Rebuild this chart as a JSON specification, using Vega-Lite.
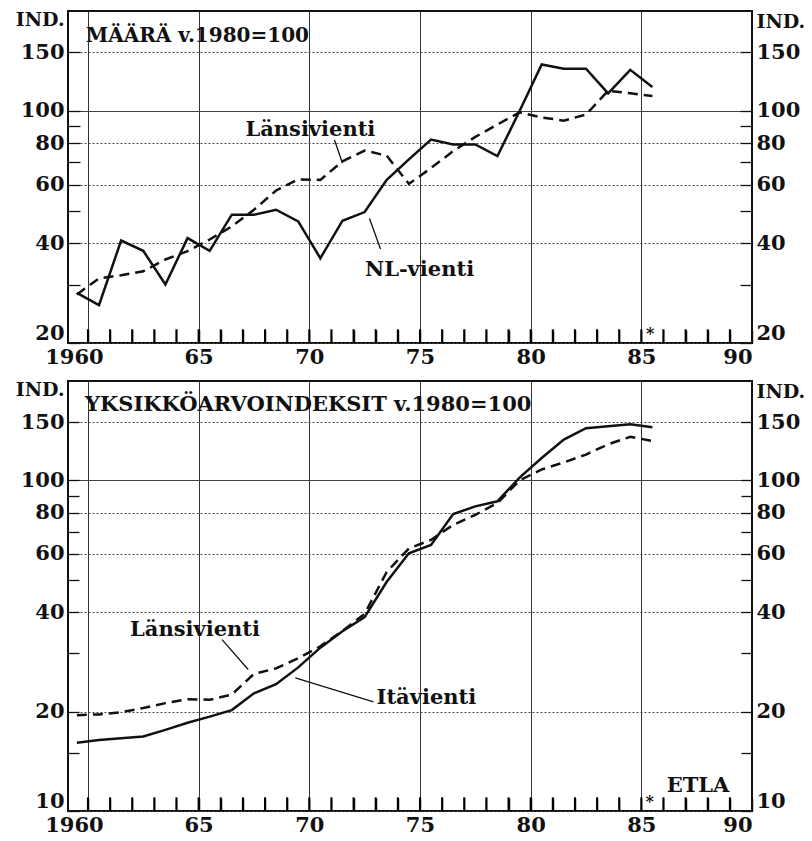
{
  "$schema": "https://vega.github.io/schema/vega-lite/v6.json",
  "padding": {"left": 14, "top": 9, "right": 4, "bottom": 4},
  "background": "white",
  "bounds": "flush",
  "spacing": 38,
  "config": {
    "view": {"stroke": "#111", "strokeWidth": 2},
    "axis": {
      "labelFont": "DejaVu Serif", "labelFontWeight": "bold", "labelFontSize": 21, "labelColor": "#111",
      "titleFont": "DejaVu Serif", "titleFontWeight": "bold", "titleFontSize": 19, "titleColor": "#111",
      "domain": false, "tickColor": "#111"
    },
    "text": {"font": "DejaVu Serif", "fontWeight": "bold", "fontSize": 21, "color": "#111"}
  },
  "datasets": {
    "years": [
      {"year": 1960}, {"year": 1961}, {"year": 1962}, {"year": 1963}, {"year": 1964}, {"year": 1965},
      {"year": 1966}, {"year": 1967}, {"year": 1968}, {"year": 1969}, {"year": 1970}, {"year": 1971},
      {"year": 1972}, {"year": 1973}, {"year": 1974}, {"year": 1975}, {"year": 1976}, {"year": 1977},
      {"year": 1978}, {"year": 1979}, {"year": 1980}, {"year": 1981}, {"year": 1982}, {"year": 1983},
      {"year": 1984}, {"year": 1985}, {"year": 1986}, {"year": 1987}, {"year": 1988}, {"year": 1989}
    ],
    "vol": [
      {"year": 1960, "series": "NL-vienti", "value": 28.3},
      {"year": 1961, "series": "NL-vienti", "value": 26.0},
      {"year": 1962, "series": "NL-vienti", "value": 40.7},
      {"year": 1963, "series": "NL-vienti", "value": 37.9},
      {"year": 1964, "series": "NL-vienti", "value": 30.0},
      {"year": 1965, "series": "NL-vienti", "value": 41.4},
      {"year": 1966, "series": "NL-vienti", "value": 37.9},
      {"year": 1967, "series": "NL-vienti", "value": 48.7},
      {"year": 1968, "series": "NL-vienti", "value": 48.7},
      {"year": 1969, "series": "NL-vienti", "value": 50.4},
      {"year": 1970, "series": "NL-vienti", "value": 46.5},
      {"year": 1971, "series": "NL-vienti", "value": 36.0},
      {"year": 1972, "series": "NL-vienti", "value": 46.7},
      {"year": 1973, "series": "NL-vienti", "value": 49.6},
      {"year": 1974, "series": "NL-vienti", "value": 62.0},
      {"year": 1975, "series": "NL-vienti", "value": 71.5},
      {"year": 1976, "series": "NL-vienti", "value": 82.0},
      {"year": 1977, "series": "NL-vienti", "value": 79.3},
      {"year": 1978, "series": "NL-vienti", "value": 79.3},
      {"year": 1979, "series": "NL-vienti", "value": 73.1},
      {"year": 1980, "series": "NL-vienti", "value": 100},
      {"year": 1981, "series": "NL-vienti", "value": 138},
      {"year": 1982, "series": "NL-vienti", "value": 134},
      {"year": 1983, "series": "NL-vienti", "value": 134},
      {"year": 1984, "series": "NL-vienti", "value": 113},
      {"year": 1985, "series": "NL-vienti", "value": 133},
      {"year": 1986, "series": "NL-vienti", "value": 118},
      {"year": 1960, "series": "Länsivienti", "value": 28.0},
      {"year": 1961, "series": "Länsivienti", "value": 31.3},
      {"year": 1962, "series": "Länsivienti", "value": 32.0},
      {"year": 1963, "series": "Länsivienti", "value": 32.9},
      {"year": 1964, "series": "Länsivienti", "value": 35.7},
      {"year": 1965, "series": "Länsivienti", "value": 37.8},
      {"year": 1966, "series": "Länsivienti", "value": 41.0},
      {"year": 1967, "series": "Länsivienti", "value": 44.9},
      {"year": 1968, "series": "Länsivienti", "value": 50.4},
      {"year": 1969, "series": "Länsivienti", "value": 57.6},
      {"year": 1970, "series": "Länsivienti", "value": 62.2},
      {"year": 1971, "series": "Länsivienti", "value": 62.0},
      {"year": 1972, "series": "Länsivienti", "value": 70.5},
      {"year": 1973, "series": "Länsivienti", "value": 76.0},
      {"year": 1974, "series": "Länsivienti", "value": 73.3},
      {"year": 1975, "series": "Länsivienti", "value": 60.3},
      {"year": 1976, "series": "Länsivienti", "value": 67.3},
      {"year": 1977, "series": "Länsivienti", "value": 75.7},
      {"year": 1978, "series": "Länsivienti", "value": 83.5},
      {"year": 1979, "series": "Länsivienti", "value": 91.0},
      {"year": 1980, "series": "Länsivienti", "value": 99.0},
      {"year": 1981, "series": "Länsivienti", "value": 95.6},
      {"year": 1982, "series": "Länsivienti", "value": 93.5},
      {"year": 1983, "series": "Länsivienti", "value": 97.5},
      {"year": 1984, "series": "Länsivienti", "value": 115},
      {"year": 1985, "series": "Länsivienti", "value": 113},
      {"year": 1986, "series": "Länsivienti", "value": 111}
    ],
    "unit": [
      {"year": 1960, "series": "Itävienti", "value": 16.1},
      {"year": 1961, "series": "Itävienti", "value": 16.4},
      {"year": 1962, "series": "Itävienti", "value": 16.6},
      {"year": 1963, "series": "Itävienti", "value": 16.8},
      {"year": 1964, "series": "Itävienti", "value": 17.6},
      {"year": 1965, "series": "Itävienti", "value": 18.5},
      {"year": 1966, "series": "Itävienti", "value": 19.3},
      {"year": 1967, "series": "Itävienti", "value": 20.2},
      {"year": 1968, "series": "Itävienti", "value": 22.7},
      {"year": 1969, "series": "Itävienti", "value": 24.2},
      {"year": 1970, "series": "Itävienti", "value": 27.2},
      {"year": 1971, "series": "Itävienti", "value": 31.2},
      {"year": 1972, "series": "Itävienti", "value": 35.0},
      {"year": 1973, "series": "Itävienti", "value": 38.6},
      {"year": 1974, "series": "Itävienti", "value": 49.4},
      {"year": 1975, "series": "Itävienti", "value": 60.2},
      {"year": 1976, "series": "Itävienti", "value": 63.8},
      {"year": 1977, "series": "Itävienti", "value": 79.1},
      {"year": 1978, "series": "Itävienti", "value": 83.5},
      {"year": 1979, "series": "Itävienti", "value": 86.5},
      {"year": 1980, "series": "Itävienti", "value": 102},
      {"year": 1981, "series": "Itävienti", "value": 117},
      {"year": 1982, "series": "Itävienti", "value": 133},
      {"year": 1983, "series": "Itävienti", "value": 144},
      {"year": 1984, "series": "Itävienti", "value": 146},
      {"year": 1985, "series": "Itävienti", "value": 148},
      {"year": 1986, "series": "Itävienti", "value": 145},
      {"year": 1960, "series": "Länsivienti", "value": 19.5},
      {"year": 1961, "series": "Länsivienti", "value": 19.6},
      {"year": 1962, "series": "Länsivienti", "value": 19.9},
      {"year": 1963, "series": "Länsivienti", "value": 20.5},
      {"year": 1964, "series": "Länsivienti", "value": 21.2},
      {"year": 1965, "series": "Länsivienti", "value": 21.8},
      {"year": 1966, "series": "Länsivienti", "value": 21.7},
      {"year": 1967, "series": "Länsivienti", "value": 22.5},
      {"year": 1968, "series": "Länsivienti", "value": 26.0},
      {"year": 1969, "series": "Länsivienti", "value": 27.0},
      {"year": 1970, "series": "Länsivienti", "value": 29.0},
      {"year": 1971, "series": "Länsivienti", "value": 31.5},
      {"year": 1972, "series": "Länsivienti", "value": 35.1},
      {"year": 1973, "series": "Länsivienti", "value": 39.5},
      {"year": 1974, "series": "Länsivienti", "value": 52.9},
      {"year": 1975, "series": "Länsivienti", "value": 62.3},
      {"year": 1976, "series": "Länsivienti", "value": 66.1},
      {"year": 1977, "series": "Länsivienti", "value": 73.4},
      {"year": 1978, "series": "Länsivienti", "value": 78.7},
      {"year": 1979, "series": "Länsivienti", "value": 85.5},
      {"year": 1980, "series": "Länsivienti", "value": 100},
      {"year": 1981, "series": "Länsivienti", "value": 108},
      {"year": 1982, "series": "Länsivienti", "value": 113.4},
      {"year": 1983, "series": "Länsivienti", "value": 119.8},
      {"year": 1984, "series": "Länsivienti", "value": 128.7},
      {"year": 1985, "series": "Länsivienti", "value": 135.6},
      {"year": 1986, "series": "Länsivienti", "value": 131.6}
    ],
    "notesTop": [
      {"label": "Länsivienti", "year": 1970.55, "value": 84},
      {"label": "NL-vienti", "year": 1975.48, "value": 31.9},
      {"label": "*", "year": 1985.9, "value": 20.5}
    ],
    "arrowsTop": [
      {"year": 1971.64, "value": 81.7, "year2": 1972.0, "value2": 69.6},
      {"year": 1973.72, "value": 38.4, "year2": 1973.22, "value2": 47.4}
    ],
    "notesBottom": [
      {"label": "Länsivienti", "year": 1965.34, "value": 33.9},
      {"label": "Itävienti", "year": 1975.79, "value": 21.1},
      {"label": "ETLA", "year": 1988.06, "value": 11.4},
      {"label": "*", "year": 1985.88, "value": 10.25}
    ],
    "arrowsBottom": [
      {"year": 1966.56, "value": 33.0, "year2": 1967.74, "value2": 26.8},
      {"year": 1973.4, "value": 21.4, "year2": 1969.87, "value2": 25.3}
    ]
  },
  "vconcat": [
    {
      "width": 684,
      "height": 332,
      "title": {"text": "MÄÄRÄ v.1980=100", "anchor": "start", "frame": "group", "offset": -52, "dx": 18, "baseline": "alphabetic", "font": "DejaVu Serif", "fontSize": 20, "fontWeight": "bold", "color": "#111"},
      "layer": [
        {
          "data": {"name": "vol"},
          "transform": [{"filter": "datum.series == 'NL-vienti'"}],
          "mark": {"type": "line", "color": "#111", "strokeWidth": 2.5},
          "encoding": {
            "x": {"field": "year", "type": "quantitative", "scale": {"domain": [1959.6, 1990.5], "nice": false, "zero": false},
              "axis": {"orient": "bottom", "title": null,
                "values": [1960.5,1961.5,1962.5,1963.5,1964.5,1965.5,1966.5,1967.5,1968.5,1969.5,1970.5,1971.5,1972.5,1973.5,1974.5,1975.5,1976.5,1977.5,1978.5,1979.5,1980.5,1981.5,1982.5,1983.5,1984.5,1985.5,1986.5,1987.5,1988.5,1989.5,1990.5],
                "labelExpr": "datum.value == 1960.5 ? '1960' : ((datum.value - 0.5) % 5 == 0 ? format((datum.value - 0.5) % 100, '02d') : '')",
                "labelOffset": {"condition": {"test": "datum.value == 1960.5", "value": -14}, "value": 0},
                "ticks": true, "tickColor": "#111", "tickSize": -13, "tickWidth": 1.5, "labelPadding": 16, "labelFlush": true,
                "grid": false}},
            "y": {"field": "value", "type": "quantitative", "scale": {"type": "log", "domain": [20, 200], "nice": false},
              "axis": {"orient": "left", "values": [20,30,40,50,60,70,80,90,100,150],
                "labelExpr": "(datum.value==30||datum.value==50||datum.value==70||datum.value==90) ? '' : format(datum.value,'d')",
                "tickSize": -12, "tickWidth": 1.3, "labelPadding": 16, "labelFlush": true,
                "grid": true, "gridColor": "#444", "gridWidth": 1,
                "gridOpacity": {"condition": {"test": "datum.value==30||datum.value==50||datum.value==70||datum.value==90", "value": 0}, "value": 1},
                "gridDash": {"condition": {"test": "datum.value==100", "value": []}, "value": [2, 2]},
                "title": "IND.", "titleAngle": 0, "titleAlign": "right", "titleBaseline": "top", "titleX": -4, "titleY": -1}}
          }
        },
        {
          "data": {"name": "vol"},
          "transform": [{"filter": "datum.series == 'Länsivienti'"}],
          "mark": {"type": "line", "color": "#111", "strokeWidth": 2.5, "strokeDash": [10, 6]},
          "encoding": {
            "x": {"field": "year", "type": "quantitative", "scale": {"domain": [1959.6, 1990.5], "nice": false, "zero": false},
              "axis": {"orient": "top", "title": null, "values": [1960.5, 1965.5, 1970.5, 1975.5, 1980.5, 1985.5],
                "labels": false, "ticks": false, "domain": false, "grid": true, "gridColor": "#333", "gridWidth": 1}},
            "y": {"field": "value", "type": "quantitative", "scale": {"type": "log", "domain": [20, 200], "nice": false},
              "axis": {"orient": "right", "values": [20,30,40,50,60,70,80,90,100,150],
                "labelExpr": "(datum.value==30||datum.value==50||datum.value==70||datum.value==90) ? '' : format(datum.value,'d')",
                "tickSize": -12, "tickWidth": 1.3, "labelPadding": 16, "labelFlush": true, "grid": false,
                "title": "IND.", "titleAngle": 0, "titleAlign": "left", "titleBaseline": "top", "titleX": 4, "titleY": 1}}
          }
        },
        {
          "data": {"name": "years"},
          "mark": {"type": "rule", "color": "#000", "strokeWidth": 2, "xOffset": 11.07},
          "encoding": {
            "x": {"field": "year", "type": "quantitative", "scale": {"domain": [1959.6, 1990.5], "nice": false, "zero": false}, "axis": null},
            "y": {"datum": 20, "type": "quantitative", "scale": {"type": "log", "domain": [20, 200], "nice": false}, "axis": null},
            "y2": {"datum": 22.0}
          }
        },
        {
          "data": {"name": "arrowsTop"},
          "mark": {"type": "rule", "color": "#111", "strokeWidth": 1.3},
          "encoding": {
            "x": {"field": "year", "type": "quantitative", "scale": {"domain": [1959.6, 1990.5], "nice": false, "zero": false}, "axis": null},
            "y": {"field": "value", "type": "quantitative", "scale": {"type": "log", "domain": [20, 200], "nice": false}, "axis": null},
            "x2": {"field": "year2"},
            "y2": {"field": "value2"}
          }
        },
        {
          "data": {"name": "notesTop"},
          "transform": [{"filter": "datum.label != '*'"}],
          "mark": {"type": "text", "align": "center", "baseline": "alphabetic"},
          "encoding": {
            "x": {"field": "year", "type": "quantitative", "scale": {"domain": [1959.6, 1990.5], "nice": false, "zero": false}, "axis": null},
            "y": {"field": "value", "type": "quantitative", "scale": {"type": "log", "domain": [20, 200], "nice": false}, "axis": null},
            "text": {"field": "label"}
          }
        },
        {
          "data": {"name": "notesTop"},
          "transform": [{"filter": "datum.label == '*'"}],
          "mark": {"type": "text", "align": "center", "baseline": "alphabetic", "fontSize": 16},
          "encoding": {
            "x": {"field": "year", "type": "quantitative", "scale": {"domain": [1959.6, 1990.5], "nice": false, "zero": false}, "axis": null},
            "y": {"field": "value", "type": "quantitative", "scale": {"type": "log", "domain": [20, 200], "nice": false}, "axis": null},
            "text": {"field": "label"}
          }
        }
      ],
      "resolve": {"axis": {"x": "independent", "y": "independent"}}
    },
    {
      "width": 684,
      "height": 430,
      "title": {"text": "YKSIKKÖARVOINDEKSIT v.1980=100", "anchor": "start", "frame": "group", "offset": -52, "dx": 17, "baseline": "alphabetic", "font": "DejaVu Serif", "fontSize": 21, "fontWeight": "bold", "color": "#111"},
      "layer": [
        {
          "data": {"name": "unit"},
          "transform": [{"filter": "datum.series == 'Itävienti'"}],
          "mark": {"type": "line", "color": "#111", "strokeWidth": 2.5},
          "encoding": {
            "x": {"field": "year", "type": "quantitative", "scale": {"domain": [1959.6, 1990.5], "nice": false, "zero": false},
              "axis": {"orient": "bottom", "title": null,
                "values": [1960.5,1961.5,1962.5,1963.5,1964.5,1965.5,1966.5,1967.5,1968.5,1969.5,1970.5,1971.5,1972.5,1973.5,1974.5,1975.5,1976.5,1977.5,1978.5,1979.5,1980.5,1981.5,1982.5,1983.5,1984.5,1985.5,1986.5,1987.5,1988.5,1989.5,1990.5],
                "labelExpr": "datum.value == 1960.5 ? '1960' : ((datum.value - 0.5) % 5 == 0 ? format((datum.value - 0.5) % 100, '02d') : '')",
                "labelOffset": {"condition": {"test": "datum.value == 1960.5", "value": -14}, "value": 0},
                "ticks": true, "tickColor": "#111", "tickSize": -13, "tickWidth": 1.5, "labelPadding": 16, "labelFlush": true,
                "grid": false}},
            "y": {"field": "value", "type": "quantitative", "scale": {"type": "log", "domain": [10, 200], "nice": false},
              "axis": {"orient": "left", "values": [10,15,20,30,40,50,60,70,80,90,100,150],
                "labelExpr": "(datum.value==15||datum.value==30||datum.value==50||datum.value==70||datum.value==90) ? '' : format(datum.value,'d')",
                "tickSize": -11, "tickWidth": 1.3, "labelPadding": 15, "labelFlush": true,
                "grid": true, "gridColor": "#444", "gridWidth": 1,
                "gridOpacity": {"condition": {"test": "datum.value==15||datum.value==30||datum.value==50||datum.value==70||datum.value==90", "value": 0}, "value": 1},
                "gridDash": {"condition": {"test": "datum.value==100", "value": []}, "value": [2, 2]},
                "title": "IND.", "titleAngle": 0, "titleAlign": "right", "titleBaseline": "top", "titleX": -4, "titleY": -1}}
          }
        },
        {
          "data": {"name": "unit"},
          "transform": [{"filter": "datum.series == 'Länsivienti'"}],
          "mark": {"type": "line", "color": "#111", "strokeWidth": 2.5, "strokeDash": [10, 6]},
          "encoding": {
            "x": {"field": "year", "type": "quantitative", "scale": {"domain": [1959.6, 1990.5], "nice": false, "zero": false},
              "axis": {"orient": "top", "title": null, "values": [1960.5, 1965.5, 1970.5, 1975.5, 1980.5, 1985.5],
                "labels": false, "ticks": false, "domain": false, "grid": true, "gridColor": "#333", "gridWidth": 1}},
            "y": {"field": "value", "type": "quantitative", "scale": {"type": "log", "domain": [10, 200], "nice": false},
              "axis": {"orient": "right", "values": [10,15,20,30,40,50,60,70,80,90,100,150],
                "labelExpr": "(datum.value==15||datum.value==30||datum.value==50||datum.value==70||datum.value==90) ? '' : format(datum.value,'d')",
                "tickSize": -11, "tickWidth": 1.3, "labelPadding": 15, "labelFlush": true, "grid": false,
                "title": "IND.", "titleAngle": 0, "titleAlign": "left", "titleBaseline": "top", "titleX": 4, "titleY": 1}}
          }
        },
        {
          "data": {"name": "years"},
          "mark": {"type": "rule", "color": "#000", "strokeWidth": 2, "xOffset": 11.07},
          "encoding": {
            "x": {"field": "year", "type": "quantitative", "scale": {"domain": [1959.6, 1990.5], "nice": false, "zero": false}, "axis": null},
            "y": {"datum": 10, "type": "quantitative", "scale": {"type": "log", "domain": [10, 200], "nice": false}, "axis": null},
            "y2": {"datum": 11.0}
          }
        },
        {
          "data": {"name": "arrowsBottom"},
          "mark": {"type": "rule", "color": "#111", "strokeWidth": 1.3},
          "encoding": {
            "x": {"field": "year", "type": "quantitative", "scale": {"domain": [1959.6, 1990.5], "nice": false, "zero": false}, "axis": null},
            "y": {"field": "value", "type": "quantitative", "scale": {"type": "log", "domain": [10, 200], "nice": false}, "axis": null},
            "x2": {"field": "year2"},
            "y2": {"field": "value2"}
          }
        },
        {
          "data": {"name": "notesBottom"},
          "transform": [{"filter": "datum.label != '*'"}],
          "mark": {"type": "text", "align": "center", "baseline": "alphabetic"},
          "encoding": {
            "x": {"field": "year", "type": "quantitative", "scale": {"domain": [1959.6, 1990.5], "nice": false, "zero": false}, "axis": null},
            "y": {"field": "value", "type": "quantitative", "scale": {"type": "log", "domain": [10, 200], "nice": false}, "axis": null},
            "text": {"field": "label"}
          }
        },
        {
          "data": {"name": "notesBottom"},
          "transform": [{"filter": "datum.label == '*'"}],
          "mark": {"type": "text", "align": "center", "baseline": "alphabetic", "fontSize": 16},
          "encoding": {
            "x": {"field": "year", "type": "quantitative", "scale": {"domain": [1959.6, 1990.5], "nice": false, "zero": false}, "axis": null},
            "y": {"field": "value", "type": "quantitative", "scale": {"type": "log", "domain": [10, 200], "nice": false}, "axis": null},
            "text": {"field": "label"}
          }
        }
      ],
      "resolve": {"axis": {"x": "independent", "y": "independent"}}
    }
  ]
}
